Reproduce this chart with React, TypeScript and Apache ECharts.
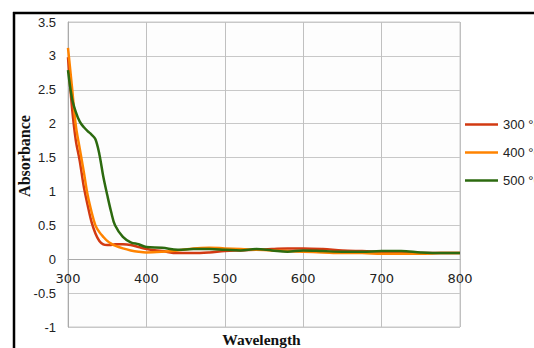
import React, { useEffect, useRef } from "react";
import * as echarts from "echarts";

const wavelengths = [300, 305, 310, 315, 320, 325, 330, 335, 340, 345, 350, 355, 360, 370, 380, 390, 400, 420, 440, 460, 480, 500, 520, 540, 560, 580, 600, 625, 650, 675, 700, 725, 750, 775, 800];

const series300 = [2.98, 2.25, 1.75, 1.45, 1.08, 0.8, 0.55, 0.38, 0.27, 0.22, 0.21, 0.21, 0.22, 0.22, 0.21, 0.18, 0.15, 0.12, 0.09, 0.09, 0.1, 0.12, 0.13, 0.14, 0.15, 0.16, 0.16, 0.15, 0.13, 0.12, 0.11, 0.1, 0.09, 0.09, 0.09];
const series400 = [3.12, 2.55, 1.97, 1.63, 1.3, 0.95, 0.7, 0.5, 0.4, 0.33, 0.27, 0.23, 0.2, 0.16, 0.13, 0.11, 0.1, 0.11, 0.13, 0.16, 0.17, 0.16, 0.15, 0.14, 0.13, 0.12, 0.11, 0.1, 0.09, 0.09, 0.08, 0.08, 0.08, 0.09, 0.09];
const series500 = [2.79, 2.38, 2.17, 2.03, 1.95, 1.89, 1.84, 1.77, 1.55, 1.22, 0.95, 0.7, 0.5, 0.33, 0.25, 0.22, 0.18, 0.17, 0.14, 0.15, 0.15, 0.14, 0.13, 0.15, 0.13, 0.11, 0.13, 0.12, 0.11, 0.11, 0.12, 0.12, 0.1, 0.09, 0.09];

const seriesNames = ["300 °C", "400 °C", "500 °C"];
const seriesColors = ["#d23a12", "#ff8300", "#2c6a0f"];

export default function App() {
  const ref = useRef<HTMLDivElement>(null);
  useEffect(() => {
    document.body.style.margin = "0";
    const chart = echarts.init(ref.current!, null, { renderer: "svg" });
    const all = [series300, series400, series500];
    chart.setOption({
      animation: false,
      backgroundColor: "#ffffff",
      grid: {
        left: 68, right: 74, top: 22, bottom: 21,
        show: true, borderColor: "#c8c8c8", borderWidth: 1, backgroundColor: "#fdfdfd",
      },
      legend: {
        orient: "vertical", left: 465, top: 117.5, padding: 0, itemWidth: 33, itemHeight: 14, itemGap: 14,
        data: seriesNames.map((n, i) => ({ name: n, icon: "path://M0,6 L33,6 L33,8.5 L0,8.5 Z", itemStyle: { color: seriesColors[i] } })),
        textStyle: { fontFamily: "Liberation Sans", fontSize: 13, color: "#222", lineHeight: 14 },
      },
      xAxis: {
        type: "value", min: 300, max: 800, interval: 100,
        offset: -67.8,
        axisLine: { show: true, onZero: false, lineStyle: { color: "#aaaaaa" } },
        axisTick: { show: false },
        axisLabel: { margin: 13, fontFamily: "DejaVu Sans", fontSize: 13, color: "#222" },
        splitLine: { show: true, lineStyle: { color: "#c0c0c0" } },
      },
      yAxis: {
        type: "value", min: -1, max: 3.5, interval: 0.5,
        axisLine: { show: true, lineStyle: { color: "#aaaaaa" } },
        axisTick: { show: false },
        axisLabel: { margin: 12, fontFamily: "Liberation Sans", fontSize: 13, color: "#222" },
        splitLine: { show: true, lineStyle: { color: "#c8c8c8" } },
      },
      series: all.map((vals, i) => ({
        name: seriesNames[i],
        type: "line",
        showSymbol: false,
        smooth: 0.35,
        lineStyle: { width: 2.5, color: seriesColors[i] },
        itemStyle: { color: seriesColors[i] },
        data: wavelengths.map((w, j) => [w, vals[j]]),
      })),
      graphic: [
        { type: "line", shape: { x1: 13, y1: 13, x2: 534, y2: 13 }, style: { stroke: "#000", lineWidth: 2.5 } },
        { type: "line", shape: { x1: 14, y1: 12, x2: 14, y2: 348 }, style: { stroke: "#000", lineWidth: 2.5 } },
        {
          type: "text", x: 24, y: 156, rotation: Math.PI / 2,
          style: { text: "Absorbance", fontFamily: "Liberation Serif", fontWeight: "bold", fontSize: 16, fill: "#111", align: "center", verticalAlign: "middle" },
        },
        {
          type: "text", x: 261.5, y: 339,
          style: { text: "Wavelength", fontFamily: "Liberation Serif", fontWeight: "bold", fontSize: 15.5, fill: "#111", align: "center", verticalAlign: "middle" },
        },
      ],
    });
    return () => chart.dispose();
  }, []);
  return <div ref={ref} style={{ width: 534, height: 348 }} />;
}
